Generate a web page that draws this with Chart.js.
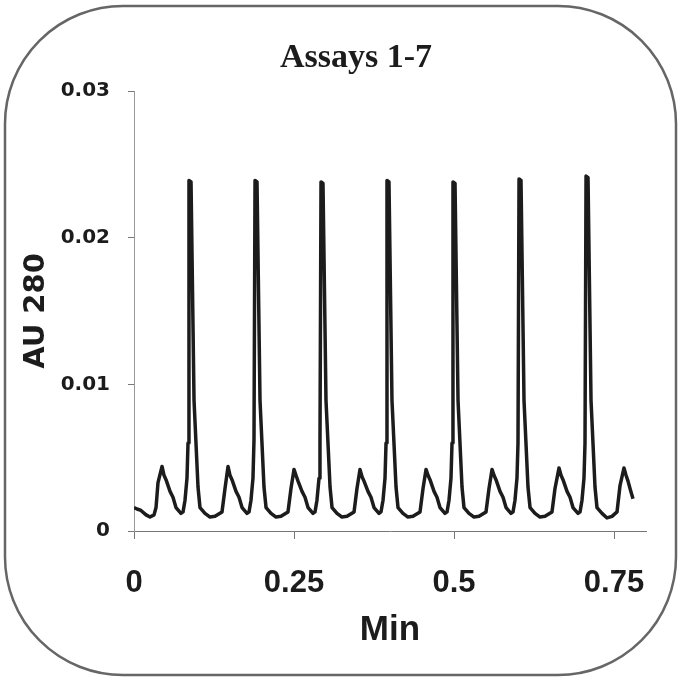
<!DOCTYPE html>
<html>
<head>
<meta charset="utf-8">
<script src="https://cdn.jsdelivr.net/npm/chart.js@4"></script>
<style>
  html, body { margin: 0; padding: 0; background: #fff; }
  #wrap { width: 680px; height: 680px; }
</style>
</head>
<body>
<div id="wrap"><canvas id="trace" width="680" height="680"></canvas></div>
<script>
// Assays 1-7, absorbance at 280 nm vs time (min)
const chartTitle = 'Assays 1-7';
const xTitle = 'Min';
const yTitle = 'AU 280';

const xTickValues = [0, 0.25, 0.5, 0.75];
const xTickLabels = ['0', '0.25', '0.5', '0.75'];
const yTickValues = [0, 0.01, 0.02, 0.03];
const yTickLabels = ['0', '0.01', '0.02', '0.03'];

const timeMin = [
  0.0000, 0.0047, 0.0109, 0.0188, 0.0250, 0.0313, 0.0344, 0.0375, 0.0438,
  0.0469, 0.0500, 0.0563, 0.0609, 0.0656, 0.0734, 0.0766, 0.0797, 0.0828, 0.0844, 0.0859, 0.0891, 0.0938, 0.1000, 0.1031, 0.1109, 0.1188, 0.1266, 0.1375, 0.1422, 0.1469,
  0.1500, 0.1531, 0.1594, 0.1641, 0.1688, 0.1766, 0.1797, 0.1828, 0.1859, 0.1875, 0.1891, 0.1922, 0.1969, 0.2031, 0.2063, 0.2141, 0.2219, 0.2297, 0.2406, 0.2453, 0.2500,
  0.2531, 0.2563, 0.2625, 0.2672, 0.2719, 0.2797, 0.2828, 0.2859, 0.2891, 0.2906, 0.2922, 0.2953, 0.3000, 0.3063, 0.3094, 0.3172, 0.3250, 0.3328, 0.3438, 0.3484, 0.3531,
  0.3563, 0.3594, 0.3656, 0.3703, 0.3750, 0.3828, 0.3859, 0.3891, 0.3922, 0.3938, 0.3953, 0.3984, 0.4031, 0.4094, 0.4125, 0.4203, 0.4281, 0.4359, 0.4469, 0.4516, 0.4563,
  0.4594, 0.4625, 0.4688, 0.4734, 0.4781, 0.4859, 0.4891, 0.4922, 0.4953, 0.4969, 0.4984, 0.5016, 0.5063, 0.5125, 0.5156, 0.5234, 0.5313, 0.5391, 0.5500, 0.5547, 0.5594,
  0.5625, 0.5656, 0.5719, 0.5766, 0.5813, 0.5891, 0.5922, 0.5953, 0.5984, 0.6000, 0.6016, 0.6047, 0.6094, 0.6156, 0.6188, 0.6266, 0.6344, 0.6422, 0.6531, 0.6578, 0.6641,
  0.6672, 0.6703, 0.6766, 0.6813, 0.6859, 0.6938, 0.6969, 0.7000, 0.7031, 0.7047, 0.7063, 0.7094, 0.7141, 0.7203, 0.7234, 0.7313, 0.7391, 0.7469, 0.7547, 0.7594, 0.7656,
  0.7688, 0.7719, 0.7750, 0.7797
];

const au280 = [
  0.0016, 0.0015, 0.0014, 0.0011, 0.00095, 0.0011, 0.0016, 0.0033, 0.0044,
  0.0038, 0.0035, 0.0027, 0.0023, 0.0016, 0.0012, 0.0013, 0.0021, 0.0036, 0.0060, 0.0239, 0.0238, 0.0089, 0.0030, 0.0016, 0.0012, 0.00095, 0.0010, 0.0013, 0.0029, 0.0044,
  0.0038, 0.0035, 0.0027, 0.0023, 0.0016, 0.0012, 0.0013, 0.0021, 0.0036, 0.0062, 0.0239, 0.0238, 0.0089, 0.0030, 0.0016, 0.0012, 0.00095, 0.0010, 0.0013, 0.0029, 0.0042,
  0.0038, 0.0034, 0.0027, 0.0023, 0.0016, 0.0012, 0.0013, 0.0021, 0.0036, 0.0060, 0.0238, 0.0237, 0.0089, 0.0030, 0.0016, 0.0012, 0.00095, 0.0010, 0.0013, 0.0029, 0.0042,
  0.0037, 0.0034, 0.0027, 0.0023, 0.0016, 0.0012, 0.0013, 0.0021, 0.0036, 0.0060, 0.0239, 0.0238, 0.0089, 0.0030, 0.0016, 0.0012, 0.00095, 0.0010, 0.0013, 0.0029, 0.0042,
  0.0038, 0.0035, 0.0027, 0.0023, 0.0016, 0.0012, 0.0013, 0.0021, 0.0036, 0.0060, 0.0238, 0.0237, 0.0089, 0.0030, 0.0016, 0.0012, 0.00095, 0.0010, 0.0013, 0.0029, 0.0042,
  0.0038, 0.0035, 0.0027, 0.0023, 0.0016, 0.0012, 0.0013, 0.0021, 0.0036, 0.0060, 0.0240, 0.0239, 0.0089, 0.0030, 0.0016, 0.0012, 0.00095, 0.0010, 0.0013, 0.0029, 0.0043,
  0.0038, 0.0035, 0.0027, 0.0023, 0.0016, 0.0012, 0.0013, 0.0021, 0.0036, 0.0060, 0.0242, 0.0241, 0.0089, 0.0030, 0.0016, 0.0012, 0.00089, 0.0010, 0.0013, 0.0031, 0.0043,
  0.0038, 0.0034, 0.0029, 0.0022
];

const ink = '#1c1c1c';
const axisGray = '#777';
const sansX = '"Liberation Sans", Arial, sans-serif';
const sansY = '"DejaVu Sans", sans-serif';

// rounded frame round the whole figure + the serif title
const framePlugin = {
  id: 'frame',
  beforeDraw(chart) {
    const ctx = chart.ctx;
    ctx.save();
    ctx.fillStyle = '#fff';
    ctx.fillRect(0, 0, chart.width, chart.height);
    ctx.restore();
  },
  afterDraw(chart) {
    const ctx = chart.ctx;
    ctx.save();
    ctx.strokeStyle = '#666';
    ctx.lineWidth = 2.5;
    ctx.beginPath();
    ctx.roundRect(5, 6, 671, 669, 118);
    ctx.stroke();
    ctx.fillStyle = ink;
    ctx.font = 'bold 34px "Liberation Serif", serif';
    ctx.textAlign = 'center';
    ctx.textBaseline = 'alphabetic';
    ctx.fillText(chartTitle, 356, 67);
    ctx.restore();
  }
};

new Chart(document.getElementById('trace'), {
  type: 'scatter',
  data: {
    datasets: [{
      label: yTitle,
      data: timeMin.map((t, i) => ({ x: t, y: au280[i] })),
      showLine: true,
      borderColor: ink,
      borderWidth: 3.5,
      borderJoinStyle: 'round',
      pointRadius: 0,
      tension: 0
    }]
  },
  options: {
    responsive: false,
    animation: false,
    layout: { padding: { top: 91, right: 34, bottom: 0, left: 0 } },
    plugins: {
      legend: { display: false },
      tooltip: { enabled: false }
    },
    scales: {
      x: {
        type: 'linear',
        min: 0,
        max: 0.8,
        afterBuildTicks: (s) => { s.ticks = xTickValues.map(v => ({ value: v })); },
        afterFit: (s) => { s.height = 149; },
        grid: { drawOnChartArea: false, drawTicks: true, tickLength: 8, tickColor: axisGray },
        border: { display: true, color: axisGray, width: 1 },
        ticks: {
          color: ink,
          padding: 26,
          maxRotation: 0,
          font: { family: sansX, size: 31, weight: 'bold' },
          callback: (v) => xTickLabels[xTickValues.indexOf(v)]
        },
        title: {
          display: true,
          text: xTitle,
          color: ink,
          padding: { top: 0, bottom: 29 },
          font: { family: sansX, size: 35, weight: 'bold' }
        }
      },
      y: {
        min: 0,
        max: 0.03,
        afterBuildTicks: (s) => { s.ticks = yTickValues.map(v => ({ value: v })); },
        afterFit: (s) => { s.width = 134; },
        grid: { drawOnChartArea: false, drawTicks: true, tickLength: 6, tickColor: axisGray },
        border: { display: true, color: '#999', width: 1, dash: [3, 2] },
        ticks: {
          color: ink,
          padding: 18,
          font: { family: sansY, size: 20, weight: 'bold' },
          callback: (v) => yTickLabels[yTickValues.indexOf(v)]
        },
        title: {
          display: true,
          text: yTitle,
          color: ink,
          padding: { top: 19, bottom: 0 },
          font: { family: sansY, size: 29, weight: 'bold' }
        }
      }
    }
  },
  plugins: [framePlugin]
});
</script>
</body>
</html>
